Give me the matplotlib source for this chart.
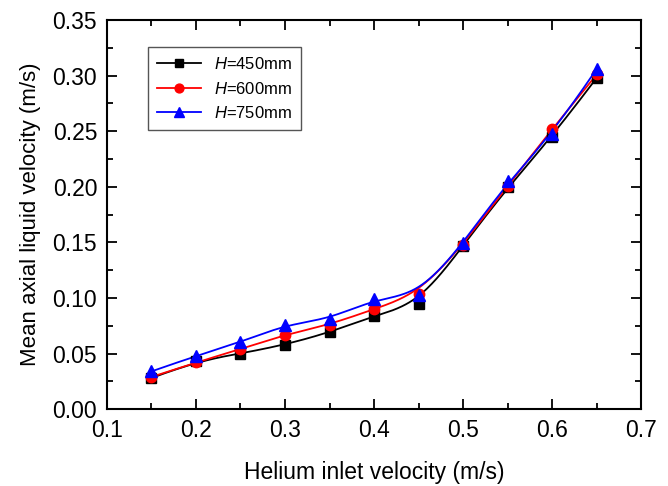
import numpy as np
import matplotlib
matplotlib.use("Agg")
import matplotlib.pyplot as plt
from matplotlib.ticker import MultipleLocator

plt.rcParams['font.family'] = ['Liberation Sans', 'DejaVu Sans']
plt.rcParams['mathtext.fontset'] = 'custom'
plt.rcParams['mathtext.it'] = 'Liberation Sans:italic'
plt.rcParams['mathtext.rm'] = 'Liberation Sans'

x = [0.15, 0.20, 0.25, 0.30, 0.35, 0.40, 0.45, 0.50, 0.55, 0.60, 0.65]
h450 = [0.028, 0.043, 0.050, 0.058, 0.069, 0.084, 0.095, 0.147, 0.200, 0.245, 0.298]
h600 = [0.029, 0.042, 0.054, 0.067, 0.076, 0.090, 0.104, 0.148, 0.201, 0.252, 0.301]
h750 = [0.034, 0.048, 0.060, 0.076, 0.081, 0.099, 0.103, 0.149, 0.205, 0.247, 0.306]
labels = ["$H$=450mm", "$H$=600mm", "$H$=750mm"]


def bspline(px, py, n=300, k=3):
    """Clamped uniform cubic B-spline using the data points as control points."""
    P = np.column_stack([px, py])
    m = len(P)
    inner = np.linspace(0, 1, m - k + 1)
    t = np.concatenate([np.zeros(k), inner, np.ones(k)])
    u = np.linspace(0, 1, n)
    u[-1] = 1 - 1e-10

    def basis(i, kk, uu):
        if kk == 0:
            return np.where((t[i] <= uu) & (uu < t[i + 1]), 1.0, 0.0)
        out = np.zeros_like(uu)
        d1 = t[i + kk] - t[i]
        d2 = t[i + kk + 1] - t[i + 1]
        if d1 > 0:
            out += (uu - t[i]) / d1 * basis(i, kk - 1, uu)
        if d2 > 0:
            out += (t[i + kk + 1] - uu) / d2 * basis(i + 1, kk - 1, uu)
        return out

    C = np.zeros((n, 2))
    for i in range(m):
        C += basis(i, k, u)[:, None] * P[i]
    return C[:, 0], C[:, 1]


fig = plt.figure(figsize=(6.68, 4.86), dpi=100)
ax = fig.add_axes([0.160, 0.158, 0.800, 0.801])

series = [(h450, 'black', 's', 7), (h600, 'red', 'o', 7.5), (h750, 'blue', '^', 8.5)]
for (ys, c, mk, ms), lab in zip(series, labels):
    sx, sy = bspline(x, ys)
    ax.plot(sx, sy, color=c, lw=1.3, zorder=2)
    ax.plot(x, ys, linestyle='none', marker=mk, color=c, ms=ms, zorder=3)
    ax.plot([], [], color=c, lw=1.3, marker=mk, ms=ms * 0.85, label=lab)

ax.set_xlim(0.1, 0.7)
ax.set_ylim(0.0, 0.35)
ax.xaxis.set_major_locator(MultipleLocator(0.1))
ax.xaxis.set_minor_locator(MultipleLocator(0.05))
ax.yaxis.set_major_locator(MultipleLocator(0.05))
ax.yaxis.set_minor_locator(MultipleLocator(0.025))
ax.xaxis.set_major_formatter(plt.FormatStrFormatter('%.1f'))
ax.yaxis.set_major_formatter(plt.FormatStrFormatter('%.2f'))
ax.tick_params(which='both', direction='in', top=True, right=True, labelsize=16.5, width=1.3)
ax.tick_params(which='major', length=7, pad=7)
ax.tick_params(which='minor', length=4)
for s in ax.spines.values():
    s.set_linewidth(1.5)

ax.set_xlabel('Helium inlet velocity (m/s)', fontsize=16.5, labelpad=14)
ax.set_ylabel('Mean axial liquid velocity (m/s)', fontsize=16, labelpad=8)

leg = ax.legend(loc='upper left', bbox_to_anchor=(148 / 668, 1 - 47 / 486),
                bbox_transform=fig.transFigure, borderaxespad=0, fontsize=12,
                fancybox=False, frameon=True, edgecolor='#555555', framealpha=1,
                handlelength=2.6, handletextpad=0.8, labelspacing=0.5,
                borderpad=0.55, numpoints=1)
leg.get_frame().set_linewidth(1.0)

fig.savefig('out.png', dpi=100)
